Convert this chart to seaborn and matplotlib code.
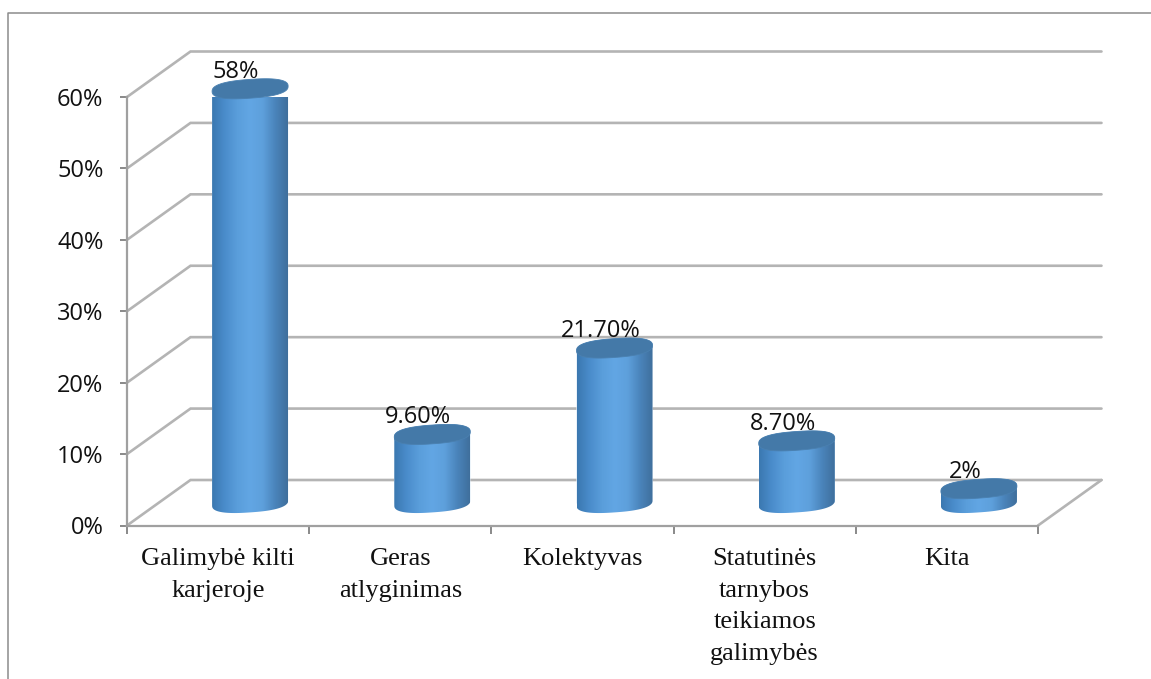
import numpy as np
import pandas as pd
import matplotlib
matplotlib.use("Agg")
import matplotlib.pyplot as plt
from matplotlib.colors import LinearSegmentedColormap
from matplotlib.lines import Line2D
from matplotlib.patches import Polygon
import seaborn as sns

categories = ["Galimybė kilti\nkarjeroje", "Geras\natlyginimas", "Kolektyvas",
              "Statutinės\ntarnybos\nteikiamos\ngalimybės", "Kita"]
shares = [58, 9.6, 21.7, 8.7, 2]
value_labels = ["58%", "9.60%", "21.70%", "8.70%", "2%"]
y_ticks = [0, 10, 20, 30, 40, 50, 60]

GRID = "#b4b4b4"
AXIS = "#a0a0a0"
CAP = "#4479a8"
W, H = 1151, 679
X0, X1, Y0, Y60 = 127, 1038, 525.5, 97

sns.set_theme(style="white")
plt.rcParams["font.family"] = ["Open Sans", "DejaVu Sans"]

fig = plt.figure(figsize=(W / 100, H / 100), dpi=100, facecolor="white")
ax = fig.add_axes([X0 / W, 1 - Y0 / H, (X1 - X0) / W, (Y0 - Y60) / H])

df = pd.DataFrame({"category": categories, "share": shares})
sns.barplot(data=df, x="category", y="share", ax=ax, color="#5a9edb",
            width=76 / 182.2, saturation=1, errorbar=None, zorder=3)

ax.set_xlim(-0.5, 4.5)
ax.set_ylim(0, 60)
ax.set_xlabel("")
ax.set_ylabel("")

# Depth of the pseudo-3D box, in data units
unit_x = (X1 - X0) / 5
unit_y = (Y0 - Y60) / 60
depth_x = 63.5 / unit_x
depth_y = 45.5 / unit_y
bar_dx = 32 / unit_x
bar_dy = 22.5 / unit_y

# Back wall, side wall and floor
for v in y_ticks:
    ax.plot([-0.5, -0.5 + depth_x, 4.5 + depth_x], [v, v + depth_y, v + depth_y],
            color=GRID, lw=1.9, clip_on=False, zorder=1, solid_joinstyle="miter")
ax.plot([4.5, 4.5 + depth_x], [0, depth_y], color=GRID, lw=1.9, clip_on=False, zorder=1)

side_shade = LinearSegmentedColormap.from_list(
    "side", ["#3b78b0", "#4a8ccb", "#5a9edb", "#62a6e4", "#5ea0dc", "#4a84bb", "#3f6f9c"])
gradient = np.linspace(0, 1, 256).reshape(1, -1)


def ellipse_arc(cx, cy, half_w, t):
    """Rounded, sheared ellipse points, tilted up toward the right."""
    half_h = 9.4 / unit_y
    tilt = 2.6 / unit_y
    c, s = np.cos(t), np.sin(t)
    round_c = np.sign(c) * np.abs(c) ** 0.8
    round_s = np.sign(s) * np.abs(s) ** 0.8
    return np.column_stack([cx + half_w * round_c,
                            cy + half_h * round_s + tilt * round_c])


for bar, value, label in zip(ax.patches, shares, value_labels):
    bar.set_x(bar.get_x() + bar_dx)
    bar.set_y(bar_dy)
    cx = bar.get_x() + bar.get_width() / 2
    half_w = bar.get_width() / 2
    top = bar_dy + value

    lower = ellipse_arc(cx, bar_dy, half_w, np.linspace(np.pi, 2 * np.pi, 60))
    upper = ellipse_arc(cx, top, half_w, np.linspace(0, np.pi, 60))
    body = Polygon(np.vstack([lower, upper]), closed=True, transform=ax.transData)
    bar.set_clip_path(body)

    img = ax.imshow(gradient, cmap=side_shade, aspect="auto", zorder=3.5,
                    extent=(cx - half_w, cx + half_w, 0, top + 3))
    img.set_clip_path(body)

    cap = Polygon(ellipse_arc(cx, top, half_w, np.linspace(0, 2 * np.pi, 120)),
                  closed=True, facecolor=CAP, edgecolor="#4a80b0", lw=0.6,
                  zorder=4, clip_on=False)
    ax.add_patch(cap)

    ax.annotate(label, (cx, top), xytext=(-14, 17), textcoords="offset pixels",
                ha="center", va="center", fontsize=17, color="#111111",
                zorder=6, annotation_clip=False)

ax.set_xlim(-0.5, 4.5)
ax.set_ylim(0, 60)

# Axes and ticks
for side in ("top", "right"):
    ax.spines[side].set_visible(False)
for side in ("left", "bottom"):
    ax.spines[side].set_color(AXIS)
    ax.spines[side].set_linewidth(1.6)
    ax.spines[side].set_zorder(2)

ax.set_yticks(y_ticks)
ax.set_yticklabels([f"{v}%" for v in y_ticks], fontsize=17, color="#111111")
ax.tick_params(axis="y", length=5, width=1.3, color="#808080", pad=12, left=True)

ax.set_xticks(range(len(categories)))
ax.set_xticklabels(categories, family="Liberation Serif", fontsize=19, color="#111111")
for tick_label in ax.get_xticklabels():
    tick_label.set_linespacing(1.58)
ax.set_xticks(np.arange(-0.5, 5, 1), minor=True)
ax.tick_params(axis="x", which="major", length=0, pad=16)
ax.tick_params(axis="x", which="minor", length=6, width=1.3, color="#808080", bottom=True)

# Outer chart frame, open on the right and at the bottom
fig.add_artist(Line2D([8 / W, 8 / W, 1], [0, 1 - 13 / H, 1 - 13 / H],
                      color="#8c8c8c", lw=1.1))

fig.savefig("out.png", dpi=100)
